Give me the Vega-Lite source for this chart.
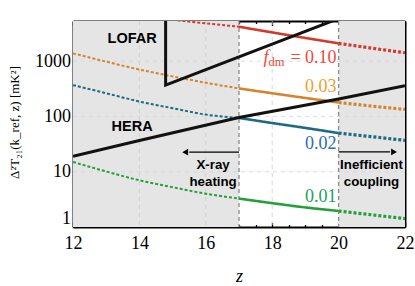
{
"$schema": "https://vega.github.io/schema/vega-lite/v6.json",
"width": 332, "height": 206,
"autosize": {"type": "none"},
"padding": {"left": 73, "top": 21, "right": 10, "bottom": 59},
"background": "white",
"config": {"view": {"stroke": null}, "axis": {"zindex": 1, "labelFont": "Liberation Serif", "titleFont": "Liberation Serif", "labelFontSize": 18, "labelColor": "black"}},
"datasets": {
 "shade": [{"a": 12, "b": 17}, {"a": 20, "b": 22}],
 "gridz": [{"z": 14}, {"z": 16}, {"z": 18}],
 "gridv": [{"v": 10}, {"v": 100}, {"v": 1000}],
 "bounds": [{"z": 17}, {"z": 20}],
 "curves": [
  {"s": "0.10", "p": "pre", "z": 12, "v": 8900}, {"s": "0.10", "p": "pre", "z": 13, "v": 7600}, {"s": "0.10", "p": "pre", "z": 14, "v": 6500}, {"s": "0.10", "p": "pre", "z": 15, "v": 5600}, {"s": "0.10", "p": "pre", "z": 16, "v": 4840}, {"s": "0.10", "p": "pre", "z": 17, "v": 4200},
  {"s": "0.10", "p": "mid", "z": 17, "v": 4200}, {"s": "0.10", "p": "mid", "z": 18, "v": 3310}, {"s": "0.10", "p": "mid", "z": 19, "v": 2630}, {"s": "0.10", "p": "mid", "z": 20, "v": 2100},
  {"s": "0.10", "p": "post", "z": 20, "v": 2100}, {"s": "0.10", "p": "post", "z": 21, "v": 1720}, {"s": "0.10", "p": "post", "z": 22, "v": 1420},
  {"s": "0.03", "p": "pre", "z": 12, "v": 1384}, {"s": "0.03", "p": "pre", "z": 13, "v": 980}, {"s": "0.03", "p": "pre", "z": 14, "v": 705}, {"s": "0.03", "p": "pre", "z": 15, "v": 531}, {"s": "0.03", "p": "pre", "z": 16, "v": 407}, {"s": "0.03", "p": "pre", "z": 17, "v": 321},
  {"s": "0.03", "p": "mid", "z": 17, "v": 321}, {"s": "0.03", "p": "mid", "z": 18, "v": 263}, {"s": "0.03", "p": "mid", "z": 19, "v": 216}, {"s": "0.03", "p": "mid", "z": 20, "v": 179},
  {"s": "0.03", "p": "post", "z": 20, "v": 179}, {"s": "0.03", "p": "post", "z": 21, "v": 154}, {"s": "0.03", "p": "post", "z": 22, "v": 134},
  {"s": "0.02", "p": "pre", "z": 12, "v": 369}, {"s": "0.02", "p": "pre", "z": 13, "v": 263}, {"s": "0.02", "p": "pre", "z": 14, "v": 186}, {"s": "0.02", "p": "pre", "z": 15, "v": 141}, {"s": "0.02", "p": "pre", "z": 16, "v": 108}, {"s": "0.02", "p": "pre", "z": 17, "v": 94},
  {"s": "0.02", "p": "mid", "z": 17, "v": 94}, {"s": "0.02", "p": "mid", "z": 18, "v": 76}, {"s": "0.02", "p": "mid", "z": 19, "v": 62}, {"s": "0.02", "p": "mid", "z": 20, "v": 50},
  {"s": "0.02", "p": "post", "z": 20, "v": 50}, {"s": "0.02", "p": "post", "z": 21, "v": 43}, {"s": "0.02", "p": "post", "z": 22, "v": 37},
  {"s": "0.01", "p": "pre", "z": 12, "v": 15}, {"s": "0.01", "p": "pre", "z": 13, "v": 10.1}, {"s": "0.01", "p": "pre", "z": 14, "v": 7.0}, {"s": "0.01", "p": "pre", "z": 15, "v": 5.25}, {"s": "0.01", "p": "pre", "z": 16, "v": 4.0}, {"s": "0.01", "p": "pre", "z": 17, "v": 3.27},
  {"s": "0.01", "p": "mid", "z": 17, "v": 3.27}, {"s": "0.01", "p": "mid", "z": 18, "v": 2.7}, {"s": "0.01", "p": "mid", "z": 19, "v": 2.26}, {"s": "0.01", "p": "mid", "z": 20, "v": 1.95},
  {"s": "0.01", "p": "post", "z": 20, "v": 1.95}, {"s": "0.01", "p": "post", "z": 21, "v": 1.66}, {"s": "0.01", "p": "post", "z": 22, "v": 1.42}
 ],
 "sens": [
  {"n": "HERA", "o": 1, "z": 12, "v": 19.1}, {"n": "HERA", "o": 2, "z": 14, "v": 36.6}, {"n": "HERA", "o": 3, "z": 17, "v": 96}, {"n": "HERA", "o": 4, "z": 20, "v": 206}, {"n": "HERA", "o": 5, "z": 22, "v": 358},
  {"n": "LOFAR", "o": 1, "z": 14.79, "v": 8000}, {"n": "LOFAR", "o": 2, "z": 14.79, "v": 369}, {"n": "LOFAR", "o": 3, "z": 20, "v": 5900}
 ],
 "arrows": [{"a": 17, "b": 15.5, "v": 22.6}, {"a": 20, "b": 21.55, "v": 22.8}],
 "heads": [{"z": 15.38, "v": 22.6, "d": "l"}, {"z": 21.67, "v": 22.8, "d": "r"}],
 "bold": [
  {"z": 13.78, "v": 2513, "t": "LOFAR", "k": "big"}, {"z": 13.78, "v": 64, "t": "HERA", "k": "big"},
  {"z": 16.22, "v": 13.1, "t": "X-ray", "k": "small"}, {"z": 16.22, "v": 6.53, "t": "heating", "k": "small"},
  {"z": 20.99, "v": 13.1, "t": "Inefficient", "k": "small"}, {"z": 20.99, "v": 6.53, "t": "coupling", "k": "small"}
 ],
 "fdm": [
  {"z": 19.94, "v": 935, "t": "= 0.10", "s": "0.10"}, {"z": 19.94, "v": 279, "t": "0.03", "s": "0.03"},
  {"z": 19.94, "v": 26.3, "t": "0.02", "s": "0.02"}, {"z": 19.94, "v": 2.84, "t": "0.01", "s": "0.01"}
 ],
 "fsym": [{"z": 19.94, "v": 935, "t": "f"}],
 "fsub": [{"z": 19.94, "v": 935, "t": "dm"}]
},
"resolve": {"axis": {"x": "independent", "y": "independent"}, "scale": {"color": "independent", "size": "independent"}},
"layer": [
 {"data": {"name": "shade"}, "mark": {"type": "rect", "color": "#e5e5e5"},
  "encoding": {
   "x": {"field": "a", "type": "quantitative", "scale": {"domain": [12, 22], "nice": false},
    "axis": {"orient": "bottom", "values": [12, 12.5, 13, 13.5, 14, 14.5, 15, 15.5, 16, 16.5, 17, 17.5, 18, 18.5, 19, 19.5, 20, 20.5, 21, 21.5, 22],
     "labelExpr": "datum.value % 2 === 0 ? toString(datum.value) : ''",
     "tickSize": {"condition": {"test": "datum.value % 2 === 0", "value": -4.5}, "value": -2.5},
     "tickColor": "black", "tickWidth": 1.3, "domainColor": "black", "domainWidth": 2, "grid": false,
     "labelFont": "Liberation Serif", "labelFontSize": 18, "labelColor": "black", "labelPadding": 12, "labelFlush": false,
     "encode": {"labels": {"update": {"font": {"value": "Liberation Serif"}}}},
     "title": "z", "titleFont": "Liberation Serif", "titleFontStyle": "italic", "titleFontWeight": "normal", "titleFontSize": 18, "titleColor": "black",
     "titleX": 166, "titleY": 54, "titleBaseline": "alphabetic"}},
   "x2": {"field": "b"}}},
 {"data": {"name": "gridz"}, "mark": {"type": "rule", "color": "#cccccc", "strokeDash": [4, 4], "strokeWidth": 0.8},
  "encoding": {
   "x": {"field": "z", "type": "quantitative", "scale": {"domain": [12, 22], "nice": false},
    "axis": {"orient": "top", "values": [12, 12.5, 13, 13.5, 14, 14.5, 15, 15.5, 16, 16.5, 17, 17.5, 18, 18.5, 19, 19.5, 20, 20.5, 21, 21.5, 22],
     "labels": false, "title": null, "grid": false,
     "tickSize": {"condition": {"test": "datum.value % 2 === 0", "value": -4.5}, "value": -2.5},
     "tickColor": "black", "tickWidth": 1.3, "domainColor": "black", "domainWidth": 2}}}},
 {"data": {"name": "gridv"}, "mark": {"type": "rule", "color": "#d4d4d4", "strokeDash": [4, 4], "strokeWidth": 0.8},
  "encoding": {
   "y": {"field": "v", "type": "quantitative", "scale": {"type": "log", "domain": [1, 5330], "nice": false},
    "axis": {"orient": "left", "values": [1, 2, 3, 4, 5, 6, 7, 8, 9, 10, 20, 30, 40, 50, 60, 70, 80, 90, 100, 200, 300, 400, 500, 600, 700, 800, 900, 1000, 2000, 3000, 4000, 5000],
     "labelExpr": "indexof([1, 10, 100, 1000], datum.value) >= 0 ? toString(datum.value) : ''",
     "tickSize": {"condition": {"test": "indexof([1, 10, 100, 1000], datum.value) >= 0", "value": -4.5}, "value": -2.5},
     "tickColor": "black", "tickWidth": 1.1, "domainColor": "black", "domainWidth": 2, "grid": false,
     "labelFont": "Liberation Serif", "labelFontSize": 18, "labelColor": "black", "labelPadding": 7, "labelFlush": true,
     "encode": {"labels": {"update": {"font": {"value": "Liberation Serif"}}}},
     "title": "Δ²T₂₁(k_ref, z) [mK²]", "titleFont": "Liberation Serif", "titleFontWeight": "normal", "titleFontSize": 13, "titleColor": "black",
     "titleX": -59, "titleY": 101, "titleAngle": -90, "titleAlign": "center", "titleBaseline": "middle"}}}},
 {"data": {"name": "bounds"}, "mark": {"type": "rule", "color": "#8a8a8a", "strokeDash": [4, 3], "strokeWidth": 1.3},
  "encoding": {"x": {"field": "z", "type": "quantitative", "scale": {"domain": [12, 22], "nice": false}, "axis": null}}},
 {"data": {"name": "curves"}, "mark": {"type": "line", "clip": true, "interpolate": "monotone"},
  "encoding": {
   "x": {"field": "z", "type": "quantitative", "scale": {"domain": [12, 22], "nice": false}, "axis": null},
   "y": {"field": "v", "type": "quantitative", "scale": {"type": "log", "domain": [1, 5330], "nice": false},
    "axis": {"orient": "right", "values": [1, 2, 3, 4, 5, 6, 7, 8, 9, 10, 20, 30, 40, 50, 60, 70, 80, 90, 100, 200, 300, 400, 500, 600, 700, 800, 900, 1000, 2000, 3000, 4000, 5000],
     "labels": false, "title": null, "grid": false,
     "tickSize": {"condition": {"test": "indexof([1, 10, 100, 1000], datum.value) >= 0", "value": -4.5}, "value": -2.5},
     "tickColor": "black", "tickWidth": 1.1, "domainColor": "black", "domainWidth": 2}},
   "color": {"field": "s", "type": "nominal", "scale": {"domain": ["0.10", "0.03", "0.02", "0.01"], "range": ["#d23a30", "#d4852b", "#1e6a84", "#23a03a"]}, "legend": null},
   "strokeDash": {"field": "p", "type": "nominal", "scale": {"domain": ["pre", "mid", "post"], "range": [[3, 2], [1, 0], [3, 2]]}, "legend": null},
   "size": {"field": "p", "type": "nominal", "scale": {"domain": ["pre", "mid", "post"], "range": [2, 3.2, 2]}, "legend": null},
   "detail": {"field": "p"}}},
 {"data": {"name": "sens"}, "mark": {"type": "line", "clip": true, "color": "#111111", "strokeWidth": 3},
  "encoding": {
   "x": {"field": "z", "type": "quantitative", "scale": {"domain": [12, 22], "nice": false}, "axis": null},
   "y": {"field": "v", "type": "quantitative", "scale": {"type": "log", "domain": [1, 5330], "nice": false}, "axis": null},
   "detail": {"field": "n"},
   "order": {"field": "o"}}},
 {"data": {"name": "arrows"}, "mark": {"type": "rule", "color": "black", "strokeWidth": 1.3},
  "encoding": {
   "x": {"field": "a", "type": "quantitative", "scale": {"domain": [12, 22], "nice": false}, "axis": null},
   "x2": {"field": "b"},
   "y": {"field": "v", "type": "quantitative", "scale": {"type": "log", "domain": [1, 5330], "nice": false}, "axis": null}}},
 {"data": {"name": "heads"}, "mark": {"type": "point", "filled": true, "color": "black", "size": 45, "opacity": 1},
  "encoding": {
   "x": {"field": "z", "type": "quantitative", "scale": {"domain": [12, 22], "nice": false}, "axis": null},
   "y": {"field": "v", "type": "quantitative", "scale": {"type": "log", "domain": [1, 5330], "nice": false}, "axis": null},
   "shape": {"field": "d", "type": "nominal", "scale": {"domain": ["l", "r"], "range": ["triangle-left", "triangle-right"]}, "legend": null}}},
 {"data": {"name": "bold"}, "mark": {"type": "text", "font": "Liberation Sans", "fontWeight": "bold", "color": "black", "align": "center", "baseline": "middle"},
  "encoding": {
   "x": {"field": "z", "type": "quantitative", "scale": {"domain": [12, 22], "nice": false}, "axis": null},
   "y": {"field": "v", "type": "quantitative", "scale": {"type": "log", "domain": [1, 5330], "nice": false}, "axis": null},
   "text": {"field": "t"},
   "size": {"field": "k", "type": "nominal", "scale": {"domain": ["big", "small"], "range": [14.5, 13.3]}, "legend": null}}},
 {"data": {"name": "fdm"}, "mark": {"type": "text", "font": "Liberation Serif", "fontSize": 18, "align": "right", "baseline": "alphabetic"},
  "encoding": {
   "x": {"field": "z", "type": "quantitative", "scale": {"domain": [12, 22], "nice": false}, "axis": null},
   "y": {"field": "v", "type": "quantitative", "scale": {"type": "log", "domain": [1, 5330], "nice": false}, "axis": null},
   "text": {"field": "t"},
   "color": {"field": "s", "type": "nominal", "scale": {"domain": ["0.10", "0.03", "0.02", "0.01"], "range": ["#f0483b", "#eea030", "#2e6db3", "#1fa05e"]}, "legend": null}}},
 {"data": {"name": "fsym"}, "mark": {"type": "text", "font": "Liberation Serif", "fontSize": 18, "fontStyle": "italic", "align": "right", "baseline": "alphabetic", "dx": -68, "color": "#f0483b"},
  "encoding": {
   "x": {"field": "z", "type": "quantitative", "scale": {"domain": [12, 22], "nice": false}, "axis": null},
   "y": {"field": "v", "type": "quantitative", "scale": {"type": "log", "domain": [1, 5330], "nice": false}, "axis": null},
   "text": {"field": "t"}}},
 {"data": {"name": "fsub"}, "mark": {"type": "text", "font": "Liberation Serif", "fontSize": 12.5, "align": "right", "baseline": "alphabetic", "dx": -52, "dy": 3, "color": "#f0483b"},
  "encoding": {
   "x": {"field": "z", "type": "quantitative", "scale": {"domain": [12, 22], "nice": false}, "axis": null},
   "y": {"field": "v", "type": "quantitative", "scale": {"type": "log", "domain": [1, 5330], "nice": false}, "axis": null},
   "text": {"field": "t"}}}
]
}
